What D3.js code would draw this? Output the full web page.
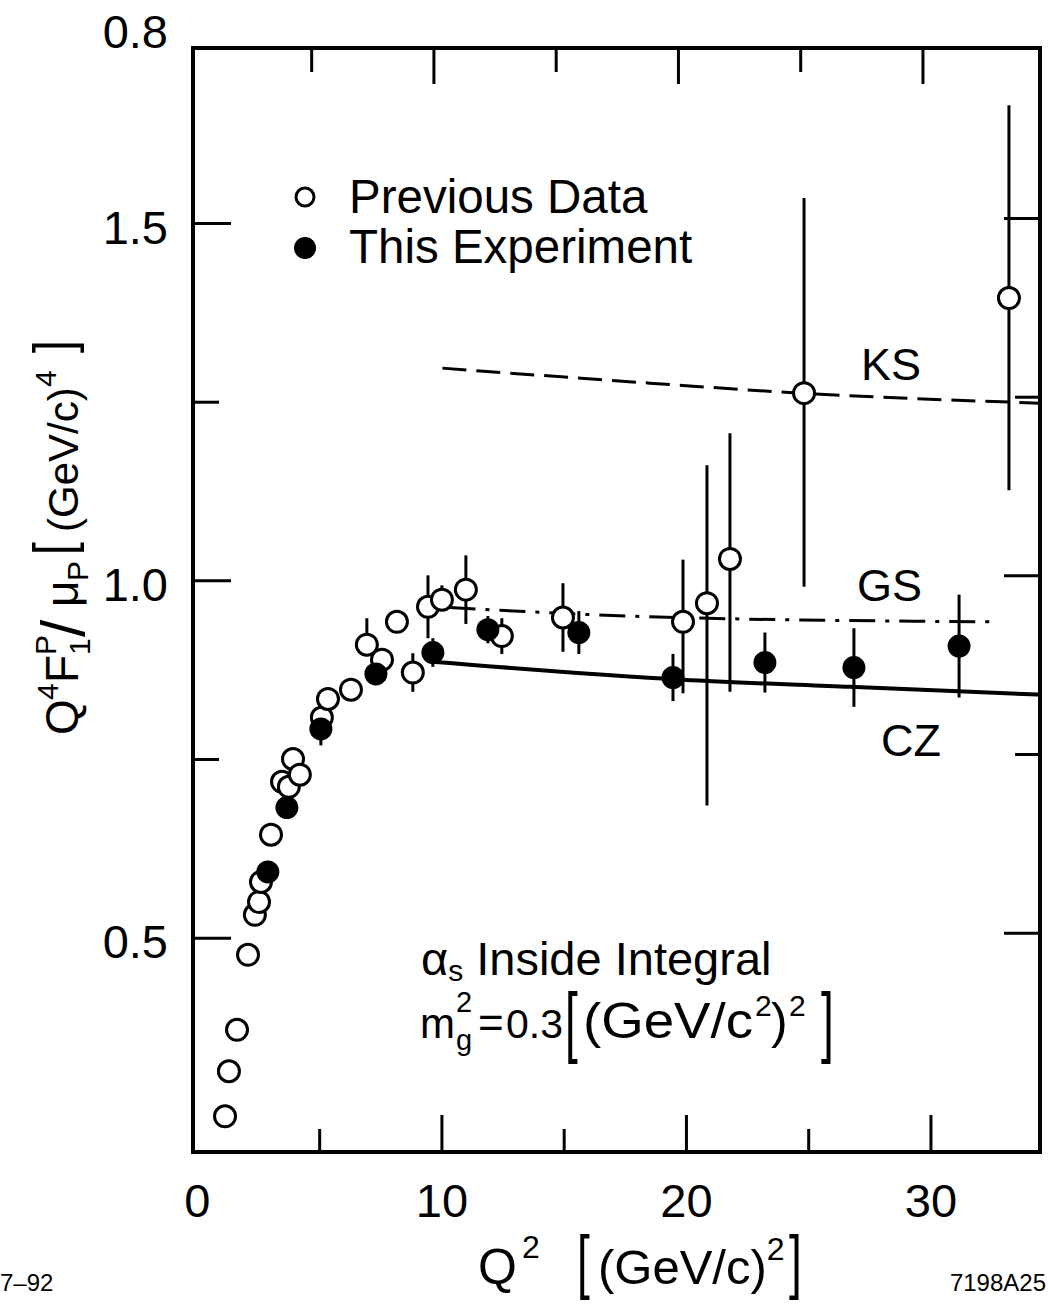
<!DOCTYPE html>
<html><head><meta charset="utf-8">
<script src="https://cdn.jsdelivr.net/npm/d3@7"></script>
<style>
html,body{margin:0;padding:0;background:#fff;}
text{font-family:"Liberation Sans",Arial,Helvetica,sans-serif;fill:#000;}
</style>
</head><body>
<svg id="chart" width="1048" height="1304"></svg>
<script>
// ---------- data ----------
// Previous data (open circles): Q^2, value, error up, error down
const prevQ2   = [1.15,1.31,1.64,2.09,2.37,2.54,2.62,3.03,3.48,3.76,3.93,4.21,5.11,5.36,6.30,6.95,7.57,8.18,8.83,9.45,10.02,11.00,12.47,14.97,19.88,20.86,21.80,24.83,33.21];
const prevVal  = [0.250,0.313,0.371,0.476,0.532,0.550,0.578,0.644,0.718,0.711,0.750,0.728,0.808,0.834,0.847,0.910,0.889,0.942,0.871,0.963,0.973,0.987,0.922,0.948,0.942,0.968,1.030,1.262,1.395];
const prevErrUp= [0,0,0,0,0,0,0,0,0,0,0,0,0,0,0,0.037,0,0,0.027,0.044,0.020,0.048,0.025,0.048,0.087,0.193,0.176,0.273,0.270];
const prevErrDn= [0,0,0,0,0,0,0,0,0,0,0,0,0,0,0,0.000,0,0,0.027,0.044,0.000,0.048,0.025,0.048,0.100,0.283,0.186,0.271,0.269];
// This experiment (filled circles)
const thisQ2   = [2.90,3.68,5.07,7.32,9.65,11.90,15.62,19.47,23.23,26.87,31.17];
const thisVal  = [0.592,0.682,0.792,0.869,0.899,0.931,0.927,0.864,0.885,0.878,0.908];
const thisErr  = [0,0,0.023,0,0.020,0.019,0.030,0.033,0.042,0.055,0.072];
// Theory curves
const ksQ2 = [10.04,18.52,24.67,34.48];
const ksVal= [1.297,1.276,1.262,1.248];
const gsQ2 = [10.33,18.52,32.46];
const gsVal= [0.962,0.949,0.942];
const czQ2 = [9.63,19.88,26.7,34.48];
const czVal= [0.886,0.861,0.851,0.840];
// Axes
const xMajor = [10,20,30];
const xMinor = [5,15,25];
const xLabels = ["0","10","20","30"];
const xLabelVals = [0,10,20,30];
const yMajor = [0.5,1.0,1.5];
const yMinor = [0.75,1.25];
const yLabels = ["0.5","1.0","1.5"];
const yTopLabel = "0.8";
const legendLabels = ["Previous Data","This Experiment"];
const curveLabels = ["KS","GS","CZ"];

// ---------- scales ----------
const svg = d3.select("#chart");
const x = d3.scaleLinear().domain([-0.16, 34.48]).range([193, 1040]);
const y = d3.scaleLinear().domain([0.2, 1.745]).range([1152, 48]);
const X0 = x.range()[0], X1 = x.range()[1], Y0 = y.range()[0], Y1 = y.range()[1];

// ---------- ticks ----------
function tickGroup(axis, transform){
  const g = svg.append("g").attr("transform", transform).call(axis);
  g.select(".domain").remove();
  g.selectAll("line").attr("stroke","#000").attr("stroke-width",3);
  g.selectAll("text").remove();
  return g;
}
tickGroup(d3.axisBottom(x).tickValues(xMajor).tickSize(-37), `translate(0,${Y0})`);
tickGroup(d3.axisBottom(x).tickValues(xMinor).tickSize(-23), `translate(0,${Y0})`);
tickGroup(d3.axisTop(x).tickValues(xMajor).tickSize(-36), `translate(-8,${Y1})`);
tickGroup(d3.axisTop(x).tickValues(xMinor).tickSize(-24), `translate(-8,${Y1})`);
tickGroup(d3.axisLeft(y).tickValues(yMajor).tickSize(-38), `translate(${X0},0)`);
tickGroup(d3.axisLeft(y).tickValues(yMinor).tickSize(-26), `translate(${X0},0)`);
tickGroup(d3.axisRight(y).tickValues(yMajor).tickSize(-36), `translate(${X1},-5)`);
tickGroup(d3.axisRight(y).tickValues(yMinor).tickSize(-25), `translate(${X1},-5)`);

// tick labels
const xl = svg.append("g").attr("transform",`translate(0,${Y0})`)
  .call(d3.axisBottom(x).tickValues(xLabelVals).tickSize(0).tickPadding(32).tickFormat((d,i)=>xLabels[i]));
xl.select(".domain").remove();
xl.selectAll("text").attr("font-size",47).attr("font-family","Liberation Sans, Arial, sans-serif").attr("fill","#000");
const yl = svg.append("g").attr("transform",`translate(${X0},5)`)
  .call(d3.axisLeft(y).tickValues(yMajor).tickSize(0).tickPadding(25).tickFormat((d,i)=>yLabels[i]));
yl.select(".domain").remove();
yl.selectAll("text").attr("font-size",47).attr("font-family","Liberation Sans, Arial, sans-serif").attr("fill","#000");
svg.append("text").attr("x",X0-25).attr("y",Y1).attr("text-anchor","end").attr("font-size",47).text(yTopLabel);

// frame
svg.append("rect").attr("x",X0).attr("y",Y1).attr("width",X1-X0).attr("height",Y0-Y1)
  .attr("fill","none").attr("stroke","#000").attr("stroke-width",4);

// ---------- curves ----------
const line = d3.line().x(d=>x(d[0])).y(d=>y(d[1])).curve(d3.curveMonotoneX);
svg.append("path").datum(ksQ2.map((q,i)=>[q,ksVal[i]])).attr("d",line)
  .attr("fill","none").attr("stroke","#000").attr("stroke-width",3).attr("stroke-dasharray","24,10");
svg.append("path").datum(gsQ2.map((q,i)=>[q,gsVal[i]])).attr("d",line)
  .attr("fill","none").attr("stroke","#000").attr("stroke-width",3).attr("stroke-dasharray","26,10,4,10");
svg.append("path").datum(czQ2.map((q,i)=>[q,czVal[i]])).attr("d",line)
  .attr("fill","none").attr("stroke","#000").attr("stroke-width",4);

// ---------- error bars ----------
const prev = prevQ2.map((q,i)=>({q, v:prevVal[i], up:prevErrUp[i], dn:prevErrDn[i]}));
const cur  = thisQ2.map((q,i)=>({q, v:thisVal[i], up:thisErr[i], dn:thisErr[i]}));
svg.append("g").selectAll("line").data(prev.concat(cur).filter(d=>d.up>0||d.dn>0)).join("line")
  .attr("x1",d=>x(d.q)).attr("x2",d=>x(d.q))
  .attr("y1",d=>y(d.v+d.up)).attr("y2",d=>y(d.v-d.dn))
  .attr("stroke","#000").attr("stroke-width",3);

// ---------- points ----------
svg.append("g").selectAll("circle").data(prev).join("circle")
  .attr("cx",d=>x(d.q)).attr("cy",d=>y(d.v)).attr("r",10.5)
  .attr("fill","#fff").attr("stroke","#000").attr("stroke-width",3);
svg.append("g").selectAll("circle").data(cur).join("circle")
  .attr("cx",d=>x(d.q)).attr("cy",d=>y(d.v)).attr("r",11.5)
  .attr("fill","#000");

// ---------- legend ----------
svg.append("circle").attr("cx",305).attr("cy",197).attr("r",9).attr("fill","#fff").attr("stroke","#000").attr("stroke-width",3);
svg.append("circle").attr("cx",305).attr("cy",248).attr("r",11).attr("fill","#000");
svg.append("text").attr("x",349).attr("y",213).attr("font-size",47.5).text(legendLabels[0]);
svg.append("text").attr("x",349).attr("y",263).attr("font-size",47.5).text(legendLabels[1]);

// ---------- curve labels ----------
svg.append("text").attr("x",861).attr("y",380).attr("font-size",45).text(curveLabels[0]);
svg.append("text").attr("x",857).attr("y",601).attr("font-size",45).text(curveLabels[1]);
svg.append("text").attr("x",881).attr("y",756).attr("font-size",45).text(curveLabels[2]);

// thin tall bracket helper (text glyph stretched vertically)
function bracket(parent, ch, bx, by, sy){
  return parent.append("text").attr("transform",`translate(${bx},${by}) scale(1,${sy})`)
    .attr("font-size",46).text(ch);
}

// ---------- annotation ----------
const a1 = svg.append("text").attr("x",421).attr("y",975).attr("font-size",47);
a1.append("tspan").text("α");
a1.append("tspan").attr("font-size",30).attr("dy",6).text("s");
a1.append("tspan").attr("dy",-6).text(" Inside Integral");

svg.append("text").attr("x",420).attr("y",1038).attr("font-size",42).text("m");
svg.append("text").attr("x",456).attr("y",1012).attr("font-size",29).text("2");
svg.append("text").attr("x",456).attr("y",1050).attr("font-size",29).text("g");
svg.append("text").attr("x",478).attr("y",1038).attr("font-size",44).text("=");
svg.append("text").attr("x",506).attr("y",1038).attr("font-size",41).text("0.3");
bracket(svg, "[", 565, 1048, 1.68);
svg.append("text").attr("x",583).attr("y",1038).attr("font-size",50)
  .attr("textLength",170).attr("lengthAdjust","spacingAndGlyphs").text("(GeV/c");
svg.append("text").attr("x",755).attr("y",1016).attr("font-size",30).text("2");
svg.append("text").attr("x",771).attr("y",1038).attr("font-size",50).text(")");
svg.append("text").attr("x",789).attr("y",1016).attr("font-size",30).text("2");
bracket(svg, "]", 821, 1048, 1.68);

// ---------- x axis title ----------
svg.append("text").attr("x",478).attr("y",1284).attr("font-size",50).text("Q");
svg.append("text").attr("x",522).attr("y",1258).attr("font-size",32).text("2");
bracket(svg, "[", 577, 1285, 1.55);
const xt = svg.append("text").attr("x",598).attr("y",1284).attr("font-size",49);
xt.append("tspan").text("(GeV/c)");
xt.append("tspan").attr("font-size",32).attr("dy",-24).text("2");
bracket(svg, "]", 789, 1285, 1.55);

// ---------- y axis title ----------
const yt = svg.append("g").attr("transform","translate(78,735) rotate(-90)");
yt.append("text").attr("x",0).attr("y",0).attr("font-size",46).text("Q");
yt.append("text").attr("x",35).attr("y",-20).attr("font-size",30).text("4");
yt.append("text").attr("x",52).attr("y",0).attr("font-size",46).text("F");
yt.append("text").attr("x",80).attr("y",-22).attr("font-size",30).text("P");
yt.append("text").attr("x",80).attr("y",12).attr("font-size",30).text("1");
yt.append("text").attr("x",98).attr("y",6).attr("font-size",62).text("/");
yt.append("text").attr("x",128).attr("y",0).attr("font-size",46).text("μ");
yt.append("text").attr("x",154).attr("y",10).attr("font-size",30).text("P");
bracket(yt, "[", 180, -6, 1.2);
yt.append("text").attr("x",203).attr("y",0).attr("font-size",42).text("(GeV/c)");
yt.append("text").attr("x",348).attr("y",-22).attr("font-size",30).text("4");
bracket(yt, "]", 382, -6, 1.2);

// ---------- footer ids ----------
svg.append("text").attr("x",0).attr("y",1291).attr("font-size",24).text("7–92");
svg.append("text").attr("x",1046).attr("y",1291).attr("text-anchor","end").attr("font-size",24).text("7198A25");
</script>
</body></html>
